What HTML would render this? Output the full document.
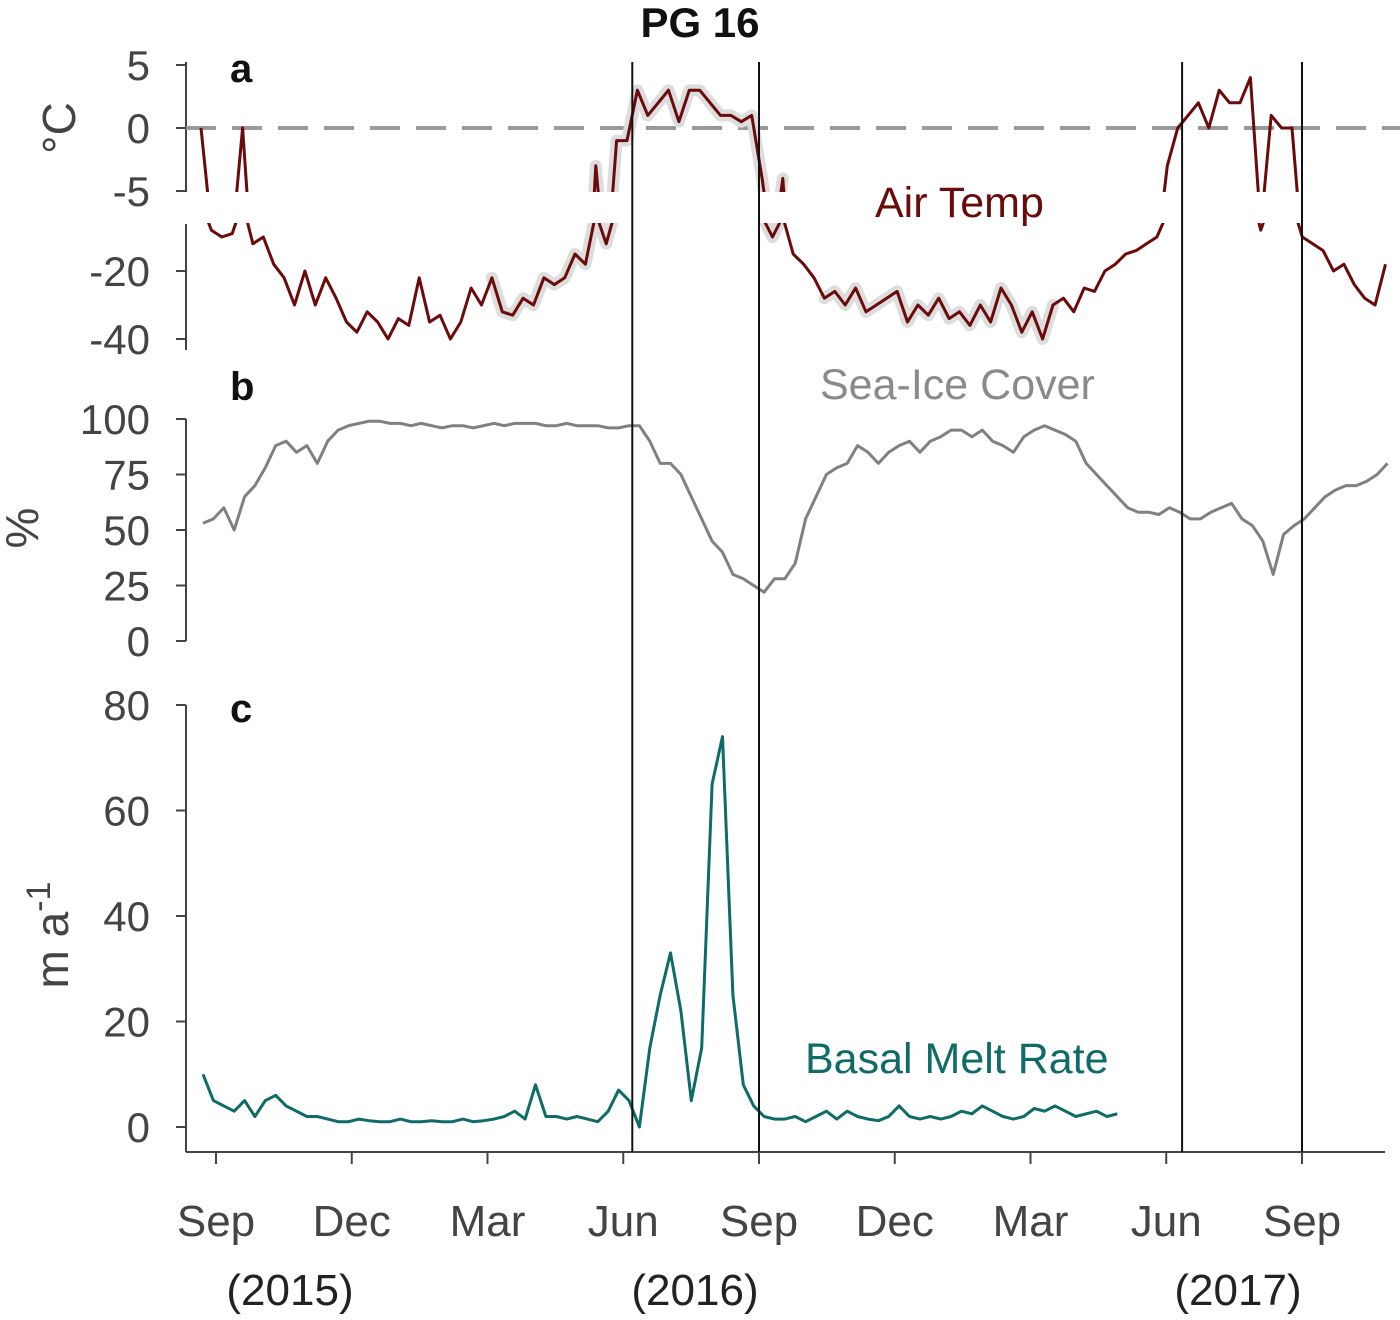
<!DOCTYPE html>
<html><head><meta charset="utf-8"><style>
html,body{margin:0;padding:0;background:#fff;}
svg text{font-family:"Liberation Sans",sans-serif;}
</style></head><body>
<svg id="chart" width="1400" height="1315" xmlns="http://www.w3.org/2000/svg">
<defs>
<clipPath id="clipUpper"><rect x="186" y="55" width="1214" height="137"/></clipPath>
<clipPath id="clipLower"><rect x="186" y="223" width="1214" height="130"/></clipPath>
</defs>
<text x="700" y="37" text-anchor="middle" font-size="42" font-weight="bold" fill="#111">PG 16</text>
<g id="axes"></g>
<g id="marks"></g>
</svg>
<script>
const tempValues=[0,-8,-10,-9,0,-12,-10,-18,-22,-30,-20,-30,-22,-28,-35,-38,-32,-35,-40,-34,-36,-22,-35,-33,-40,-35,-25,-30,-22,-32,-33,-28,-30,-22,-24,-22,-15,-18,-3,-12,-1,-1,3,1,2,3,0.5,3,3,2,1,1,0.5,1,-4,-10,-4,-15,-18,-22,-28,-26,-30,-25,-32,-30,-28,-26,-35,-30,-33,-28,-34,-32,-36,-30,-35,-25,-30,-38,-32,-40,-30,-28,-32,-25,-26,-20,-18,-15,-14,-12,-10,-3,0,1,2,0,3,2,2,4,-8,1,0,0,-10,-12,-14,-20,-18,-24,-28,-30,-18];
const iceValues=[53,55,60,50,65,70,78,88,90,85,88,80,90,95,97,98,99,99,98,98,97,98,97,96,97,97,96,97,98,97,98,98,98,97,97,98,97,97,97,96,96,97,97,90,80,80,75,65,55,45,40,30,28,25,22,28,28,35,55,65,75,78,80,88,85,80,85,88,90,85,90,92,95,95,92,95,90,88,85,92,95,97,95,93,90,80,75,70,65,60,58,58,57,60,58,55,55,58,60,62,55,52,45,30,48,52,55,60,65,68,70,70,72,75,80];
const meltValues=[10,5,4,3,5,2,5,6,4,3,2,2,1.5,1,1,1.5,1.2,1,1,1.5,1,1,1.2,1,1,1.5,1,1.2,1.5,2,3,1.5,8,2,2,1.5,2,1.5,1,3,7,5,0,15,25,33,22,5,15,65,74,25,8,4,2,1.5,1.5,2,1,2,3,1.5,3,2,1.5,1.2,2,4,2,1.5,2,1.5,2,3,2.5,4,3,2,1.5,2,3.5,3,4,3,2,2.5,3,2,2.5];
const monthLabels=["Sep","Dec","Mar","Jun","Sep","Dec","Mar","Jun","Sep"];
const yearLabels=["(2015)","(2016)","(2017)"];
const tempTicksUpper=[5,0,-5];
const tempTicksLower=[-20,-40];
const iceTicks=[0,25,50,75,100];
const meltTicks=[0,20,40,60,80];
const eventMonths=[9.2,12,21.35,24];

const NS="http://www.w3.org/2000/svg";
const axes=document.getElementById('axes'),marks=document.getElementById('marks');
function el(tag,attrs,parent){const e=document.createElementNS(NS,tag);for(const k in attrs)e.setAttribute(k,attrs[k]);parent.appendChild(e);return e;}
const xMonth=m=>216+45.25*m;
const xIdx=(i,start)=>start+10.39*i;
const yTempU=t=>128-12.6*t;
const yTempL=t=>271-(t+20)*3.4;
const yIce=v=>641-2.22*v;
const yMelt=v=>1127-5.275*v;
const grey="#444";

let a;
a=el('line',{x1:186,y1:62,x2:186,y2:192,stroke:grey,'stroke-width':2},axes);

a=el('line',{x1:186,y1:224,x2:186,y2:350,stroke:grey,'stroke-width':2},axes);

a=el('line',{x1:186,y1:419,x2:186,y2:641,stroke:grey,'stroke-width':2},axes);

a=el('line',{x1:186,y1:705,x2:186,y2:1152,stroke:grey,'stroke-width':2},axes);

a=el('line',{x1:186,y1:1152,x2:1385,y2:1152,stroke:grey,'stroke-width':2},axes);


function ytick(y,label,name){
  const l=el('line',{x1:176,y1:y,x2:186,y2:y,stroke:grey,'stroke-width':2},axes);
  
  const t=el('text',{x:150,y:y+15,'text-anchor':'end','font-size':42,fill:grey},axes);
  t.textContent=label;
  
}
tempTicksUpper.forEach(v=>ytick(yTempU(v),v,'temp'));
tempTicksLower.forEach(v=>ytick(yTempL(v),v,'temp'));
iceTicks.forEach(v=>ytick(yIce(v),v,'ice'));
meltTicks.forEach(v=>ytick(yMelt(v),v,'melt'));

monthLabels.forEach((m,i)=>{
  const x=xMonth(3*i);
  const l=el('line',{x1:x,y1:1152,x2:x,y2:1164,stroke:grey,'stroke-width':2},axes);
  
  const t=el('text',{x:x,y:1236,'text-anchor':'middle','font-size':44,fill:grey},axes);
  t.textContent=m;
  
});
const yearX=[290,695,1238];
yearLabels.forEach((y,i)=>{
  const t=el('text',{x:yearX[i],y:1305,'text-anchor':'middle','font-size':44,fill:'#222'},axes);
  t.textContent=y;
  
});

function ytitle(x,y,txt,name){const t=el('text',{x:x,y:y,'text-anchor':'middle','font-size':46,fill:grey,transform:`rotate(-90 ${x} ${y})`},axes);t.innerHTML=txt;}
ytitle(75,128,'°C','temp-axis-title');
ytitle(38,528,'%','ice-axis-title');
ytitle(68,935,'m a<tspan dy="-18" font-size="34">-1</tspan>','melt-axis-title');

[['a',230,82],['b',230,400],['c',230,722]].forEach(([l,x,y])=>{const t=el('text',{x:x,y:y,'font-size':40,'font-weight':'bold',fill:'#111'},axes);t.textContent=l;});

a=el('line',{x1:186,y1:128,x2:1400,y2:128,stroke:'#999','stroke-width':4,'stroke-dasharray':'30 16'},marks);


function tempPath(startIdx,endIdx,yf){
  let d='';
  for(let i=startIdx;i<=endIdx&&i<tempValues.length;i++){
    d+=(i===startIdx?'M':'L')+xIdx(i,201).toFixed(1)+','+yf(tempValues[i]).toFixed(1)+' ';
  }
  return d;
}
const N=tempValues.length-1;
[['clipUpper',yTempU],['clipLower',yTempL]].forEach(([clip,yf])=>{
  const g=el('g',{'clip-path':`url(#${clip})`},marks);
  
  [[28,56],[60,82]].forEach(r=>{const p=el('path',{d:tempPath(r[0],r[1],yf),fill:'none',stroke:'#ddd','stroke-width':12,'stroke-linejoin':'round','stroke-linecap':'round'},g);});
  const p=el('path',{d:tempPath(0,N,yf),fill:'none',stroke:'#6b0a0a','stroke-width':3,'stroke-linejoin':'round'},g);
  
});

a=el('path',{d:iceValues.map((v,i)=>(i?'L':'M')+xIdx(i,203).toFixed(1)+','+yIce(v).toFixed(1)).join(' '),fill:'none',stroke:'#808080','stroke-width':3,'stroke-linejoin':'round'},marks);


a=el('path',{d:meltValues.map((v,i)=>(i?'L':'M')+xIdx(i,203).toFixed(1)+','+yMelt(v).toFixed(1)).join(' '),fill:'none',stroke:'#0e6b66','stroke-width':3,'stroke-linejoin':'round'},marks);


eventMonths.forEach(m=>{const l=el('line',{x1:xMonth(m),y1:62,x2:xMonth(m),y2:1152,stroke:'#111','stroke-width':2},marks);});

[['Air Temp',875,217,'#6b0a0a','air-temp-label'],['Sea-Ice Cover',820,399,'#8a8a8a','sea-ice-label'],['Basal Melt Rate',805,1073,'#0e6b66','basal-melt-label']].forEach(([s,x,y,c,n])=>{const t=el('text',{x:x,y:y,'font-size':43,fill:c},marks);t.textContent=s;});
</script>
</body></html>
